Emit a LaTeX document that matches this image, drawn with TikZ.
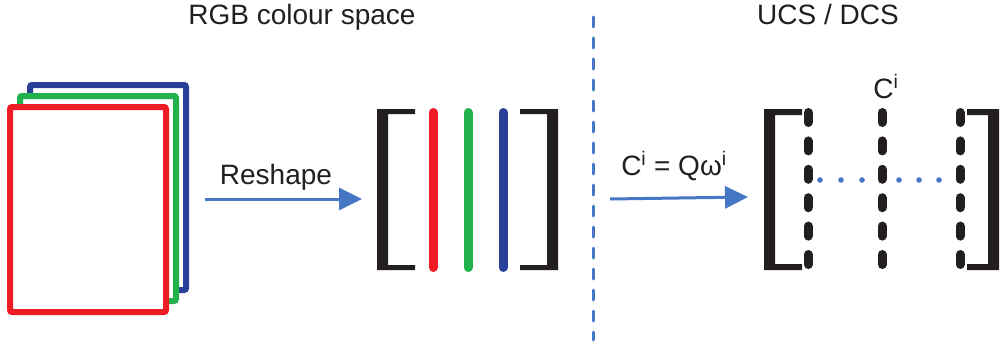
\documentclass[tikz,border=0pt]{standalone}
\usepackage{fontspec}
\setmainfont{Liberation Sans}
\usetikzlibrary{arrows.meta}

\definecolor{chred}{HTML}{ED1C24}
\definecolor{chgreen}{HTML}{22B24C}
\definecolor{chblue}{HTML}{2A3F97}
\definecolor{flowblue}{HTML}{4577C4}
\definecolor{inkblack}{HTML}{231F20}

\begin{document}
\begin{tikzpicture}[x=1pt,y=-1pt,
    chframe/.style={draw=#1,line width=6pt,rounded corners=2pt,fill=white},
    chbar/.style={line width=9pt,line cap=round},
    colbar/.style={line width=9pt,line cap=round,inkblack},
    brack/.style={fill=inkblack},
    flow/.style={line width=3pt,flowblue,-{Triangle[length=23pt,width=22pt]}},
    lbl/.style={font=\fontsize{28}{32}\selectfont,text=inkblack,inner sep=0pt,anchor=base}]
    \useasboundingbox (0,0) rectangle (1000,345);

    % headings
    \node[lbl] (rgbhead) at (302,25) {RGB colour space};
    \node[lbl] (ucshead) at (828,25) {UCS / DCS};

    % split between the two spaces
    \draw[flowblue,line width=3pt,line cap=round,dash pattern=on 10pt off 11pt] (593,17) -- (593,340);

    % image channels, back to front
    \draw[chframe=chblue]  (30,85)  rectangle ++(156,205);
    \draw[chframe=chgreen] (20,96)  rectangle ++(156,205);
    \draw[chframe=chred]   (10,107) rectangle ++(156,205);

    % reshape step
    \coordinate (rs-from) at (205,199);
    \coordinate (rs-to) at (362,199);
    \draw[flow] (rs-from) -- (rs-to);
    \node[lbl] (rslbl) at (276,184) {Reshape};

    % brackets round the channel columns
    \fill[brack] (377,109) -- (415,109) -- (415,114) -- (388,114) -- (388,265) -- (415,265) -- (415,270) -- (377,270) -- cycle;
    \fill[brack] (558,109) -- (520,109) -- (520,114) -- (547,114) -- (547,265) -- (520,265) -- (520,270) -- (558,270) -- cycle;

    % channel columns
    \draw[chbar,chred]   (433,112.5) -- (433,267.5);
    \draw[chbar,chgreen] (468,112.5) -- (468,267.5);
    \draw[chbar,chblue]  (503,112.5) -- (503,267.5);

    % projection step
    \coordinate (pj-from) at (610,199);
    \coordinate (pj-to) at (748,197);
    \draw[flow] (pj-from) -- (pj-to);
    \node[lbl] (pjlbl) at (674,175) {C\textsuperscript{i} = Qω\textsuperscript{i}};

    % brackets round the basis columns
    \fill[brack] (764,109) -- (802,109) -- (802,115) -- (775,115) -- (775,264) -- (802,264) -- (802,270) -- (764,270) -- cycle;
    \fill[brack] (999,109) -- (967,109) -- (967,115) -- (988,115) -- (988,264) -- (967,264) -- (967,270) -- (999,270) -- cycle;

    % basis columns
    \foreach \x in {808,882,960}
        \foreach \k in {0,...,5}
            \draw[colbar] (\x,{112.5+28.4*\k}) -- (\x,{122.5+28.4*\k});

    % dots between the columns
    \foreach \x in {820,841,862,899,919,939}
        \fill[flowblue] (\x,180) circle (2.8pt);

    \node[lbl] (cilbl) at (886,98) {C\textsuperscript{i}};
\end{tikzpicture}
\end{document}
